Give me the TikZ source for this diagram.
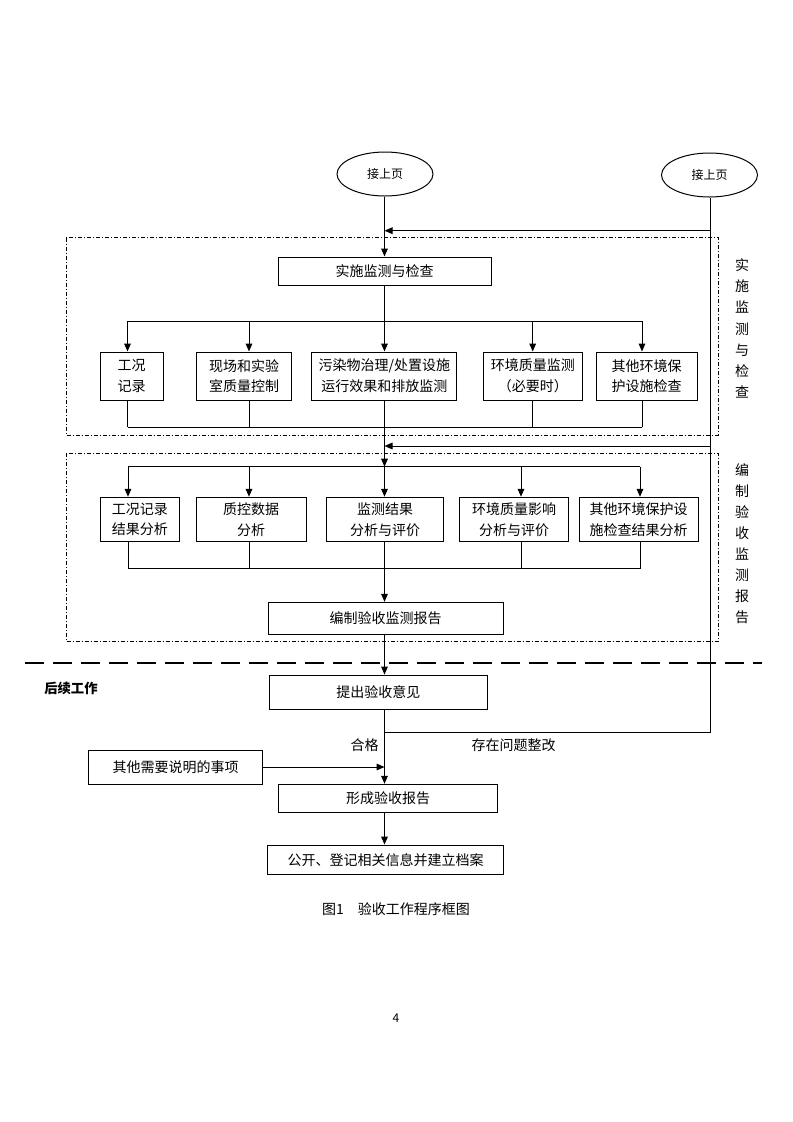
\documentclass[tikz,border=0pt]{standalone}
\usepackage{fontspec}
\setmainfont{Noto Sans CJK SC}
\usetikzlibrary{arrows.meta,shapes.geometric}
\begin{document}
\begin{tikzpicture}[x=0.75pt,y=-0.75pt,
  bx/.style 2 args={draw, line width=0.75pt, minimum width=#1*0.75pt, minimum height=#2*0.75pt, inner sep=0pt, align=center, font=\fontsize{10.5}{15.5}\selectfont},
  el/.style={draw, ellipse, line width=0.75pt, minimum width=72pt, minimum height=33pt, inner sep=0pt, font=\fontsize{9}{11}\selectfont},
  ln/.style={line width=0.75pt},
  thinln/.style={line width=0.6pt},
  arr/.style={line width=0.75pt, -{Triangle[length=6pt,width=5pt]}},
  dd/.style={line width=0.6pt, dash pattern=on 3pt off 1.5pt on 0.75pt off 1.5pt},
  lbl/.style={font=\fontsize{10.5}{12}\selectfont, inner sep=0pt},
  vt/.style={align=center, inner sep=0pt},
]
\useasboundingbox (0,0) rectangle (793,1122);

% reference coordinates
\coordinate (sp) at (384.5,0);
\coordinate (rx) at (710,0);

% ellipses
\node[el] (e1) at (385,174) {接上页};
\node[el] (e2) at (709.5,175) {接上页};

% dash-dot frames
\draw[dd] (66,237.7) rectangle (718,435);
\draw[dd] (66,453.3) rectangle (718,641.7);

% top box
\node[bx={213}{28}] (t1) at (384.5,271) {实施监测与检查};

% row 1
\node[bx={63}{48}] (b1) at (131.5,376) {工况\\记录};
\node[bx={95}{48}] (b2) at (244.2,376) {现场和实验\\室质量控制};
\node[bx={145}{48}] (b3) at (384.3,376) {污染物治理/处置设施\\运行效果和排放监测};
\node[bx={99}{48}] (b4) at (532.9,376) {环境质量监测\\（必要时）};
\node[bx={101}{48}] (b5) at (646.7,376) {其他环境保\\护设施检查};

% row 2
\node[bx={79.4}{44.5}] (c1) at (139.9,519.5) {工况记录\\结果分析};
\node[bx={110.4}{44.5}] (c2) at (251.2,519.5) {质控数据\\分析};
\node[bx={117.5}{44.5}] (c3) at (385.2,519.5) {监测结果\\分析与评价};
\node[bx={109.5}{44.5}] (c4) at (514.2,519.5) {环境质量影响\\分析与评价};
\node[bx={119.4}{44.5}] (c5) at (638.7,519.5) {其他环境保护设\\施检查结果分析};

\node[bx={235}{32}] (d1) at (385.5,618.3) {编制验收监测报告};
\node[bx={218.6}{34.3}] (p1) at (378.3,692.2) {提出验收意见};
\node[bx={174.4}{34}] (o1) at (175.5,767) {其他需要说明的事项};
\node[bx={219}{28}] (f1) at (388.2,798.3) {形成验收报告};
\node[bx={235.6}{29.3}] (g1) at (385.5,859.7) {公开、登记相关信息并建立档案};

% coordinates of distribution / collection lines
\coordinate (a1) at (127.5,321);
\coordinate (a2) at (249,321);
\coordinate (a3) at (384.5,321);
\coordinate (a4) at (532.7,321);
\coordinate (a5) at (642,321);
\coordinate (k1) at (127.5,427.3);
\coordinate (k5) at (642,427.3);
\coordinate (h1) at (128,466.7);
\coordinate (h2) at (249,466.7);
\coordinate (h3) at (384.5,466.7);
\coordinate (h4) at (521,466.7);
\coordinate (h5) at (640,466.7);
\coordinate (m1) at (128,568.5);
\coordinate (m5) at (640,568.5);
\coordinate (r1) at (710,230.7);
\coordinate (r2) at (710,446);
\coordinate (q) at (384.5,732.7);

% spine top
\draw[arr] (sp |- e1.south) -- (sp |- t1.north);
\draw[arr] (r1) -- (sp |- r1);
\draw[ln] (sp |- t1.south) -- (a3);
\draw[ln] (a1) -- (a5);
\foreach \i/\b in {1/b1,2/b2,3/b3,4/b4,5/b5}{
  \draw[arr] (a\i) -- (a\i |- \b.north);
  \draw[thinln] (a\i |- \b.south) -- (a\i |- k1);
}
\draw[thinln] (k1) -- (k5);
\draw[arr] (sp |- b3.south) -- (h3);
\draw[arr] (r2) -- (sp |- r2);
\draw[ln] (h1) -- (h5);
\foreach \i/\b in {1/c1,2/c2,3/c3,4/c4,5/c5}{
  \draw[arr] (h\i) -- (h\i |- \b.north);
  \draw[thinln] (h\i |- \b.south) -- (h\i |- m1);
}
\draw[thinln] (m1) -- (m5);
\draw[arr] (sp |- c3.south) -- (sp |- d1.north);

% thick dashed separator
\coordinate (dl) at (25,663);
\coordinate (dr) at (762,663);
\draw[line width=2.2pt, dash pattern=on 14pt off 7pt] (dl) -- (dr);

\draw[arr] (sp |- d1.south) -- (sp |- p1.north);
\draw[arr] (sp |- p1.south) -- (sp |- f1.north);
\draw[ln] (q) -- (rx |- q) -- (rx |- e2.south);
\draw[arr] (o1.east) -- (sp |- o1.east);
\draw[arr] (sp |- f1.south) -- (sp |- g1.north);

% labels
\node[lbl, anchor=east] (hg) at (379,745.5) {合格};
\node[lbl] (cz) at (513.5,745) {存在问题整改};
\node[inner sep=0pt, font=\fontsize{10}{12}\selectfont\bfseries] (hx) at (71,688) {后续工作};
\node[vt, font=\fontsize{10.5}{15.9}\selectfont] (s1) at (742,328.5) {实\\施\\监\\测\\与\\检\\查};
\node[vt, font=\fontsize{10.5}{15.75}\selectfont] (s2) at (742,543.5) {编\\制\\验\\收\\监\\测\\报\\告};
\node[lbl] (cap) at (396,909.5) {图1\hspace{1em}验收工作程序框图};
\node[inner sep=0pt, font=\fontsize{9}{11}\selectfont] (pg) at (396,1018) {4};
\end{tikzpicture}
\end{document}
